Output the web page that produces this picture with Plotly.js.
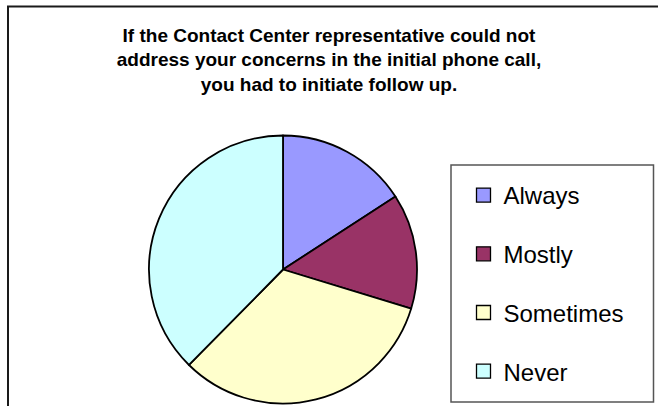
<!DOCTYPE html>
<html>
<head>
<meta charset="utf-8">
<script src="https://cdn.plot.ly/plotly-3.0.1.min.js"></script>
<style>html,body{margin:0;padding:0;background:#fff;}#chart{width:658px;height:406px;}</style>
</head>
<body>
<div id="chart"></div>
<script>
const categories = ["Always", "Mostly", "Sometimes", "Never"];
const responses = [16, 14, 33, 38];
const sliceColors = ["#9999FF", "#993366", "#FFFFCC", "#CCFFFF"];
const titleLines = [
  "If the Contact Center representative could not",
  "address your concerns in the initial phone call,",
  "you had to initiate follow up."
];

const W = 658, H = 406;
const px = x => x / W;
const py = y => 1 - y / H;

const cx = 283, cy = 269.5, r = 134;

const traces = [{
  type: "pie",
  labels: categories,
  values: responses,
  sort: false,
  direction: "clockwise",
  rotation: 0,
  textinfo: "none",
  hoverinfo: "label+percent",
  showlegend: false,
  marker: {colors: sliceColors, line: {color: "#000", width: 1.8}},
  domain: {x: [px(cx - r), px(cx + r)], y: [py(cy + r), py(cy - r)]}
}];

categories.forEach((c, i) => {
  traces.push({
    type: "scatter",
    mode: "markers",
    x: [null], y: [null],
    name: c,
    legendgroup: "g" + i,
    showlegend: true,
    hoverinfo: "skip",
    marker: {symbol: "square", size: 14, color: sliceColors[i], line: {color: "#000", width: 1.3}}
  });
});

const layout = {
  width: W, height: H,
  margin: {l: 0, r: 0, t: 0, b: 0},
  paper_bgcolor: "#fff",
  plot_bgcolor: "rgba(0,0,0,0)",
  xaxis: {visible: false},
  yaxis: {visible: false},
  title: {
    text: titleLines.join("<br>"),
    font: {family: "Liberation Sans, Arial, sans-serif", size: 19, color: "#000", weight: "bold"},
    x: px(329), xanchor: "center",
    y: py(41.5), yanchor: "top", yref: "container", xref: "container"
  },
  showlegend: true,
  legend: {
    x: px(463.5), xanchor: "left",
    y: py(173), yanchor: "top",
    traceorder: "grouped",
    tracegroupgap: 24.5,
    bgcolor: "rgba(0,0,0,0)",
    borderwidth: 0,
    font: {family: "Liberation Sans, Arial, sans-serif", size: 24, color: "#000"}
  },
  shapes: [
    {type: "rect", xref: "paper", yref: "paper", x0: px(8), x1: px(720), y0: py(6.5), y1: py(480),
     line: {color: "#1a1a1a", width: 2}, fillcolor: "rgba(0,0,0,0)"},
    {type: "rect", xref: "paper", yref: "paper", x0: px(451), x1: px(653.5), y0: py(165), y1: py(402),
     line: {color: "#555", width: 1.5}, fillcolor: "rgba(0,0,0,0)"}
  ]
};

Plotly.newPlot("chart", traces, layout, {displayModeBar: false, staticPlot: true});
</script>
</body>
</html>
